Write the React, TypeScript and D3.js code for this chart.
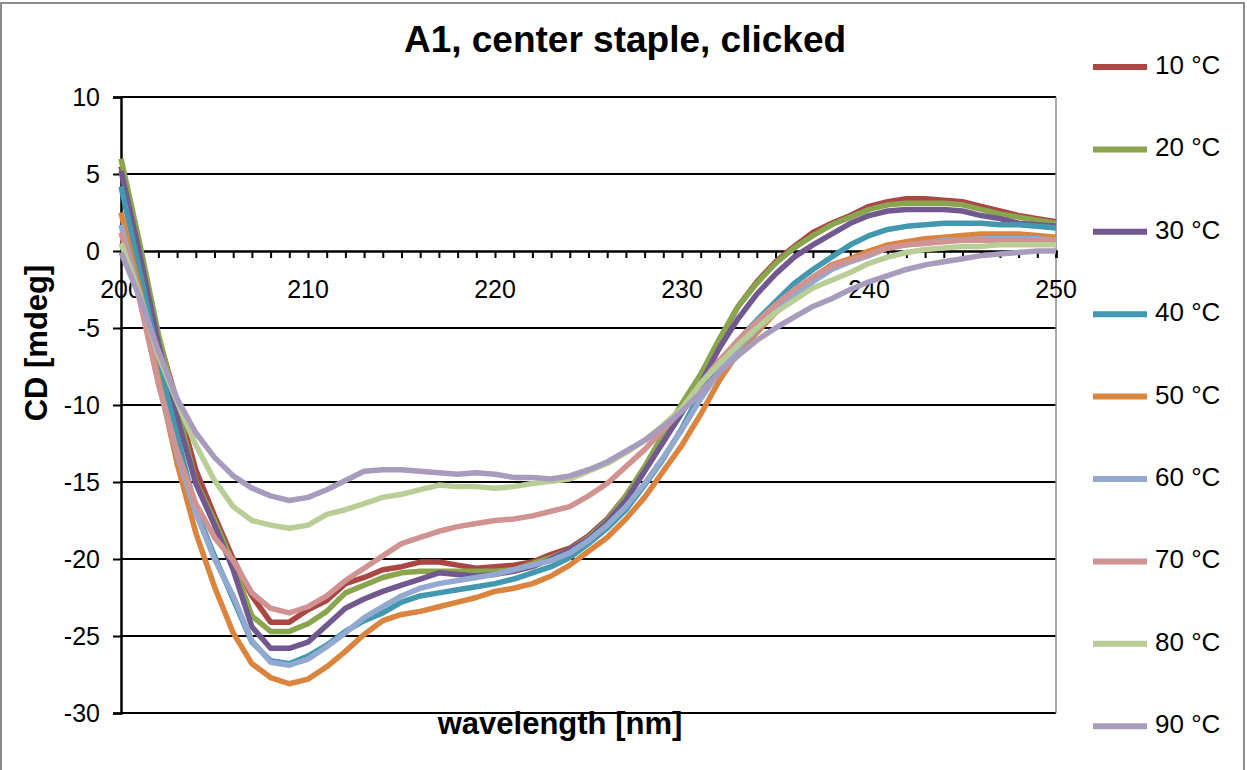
import React, { useEffect, useRef } from 'react';
import * as d3 from 'd3';

// wavelength [nm], one point per nm
const wavelengths = [
  200, 201, 202, 203, 204, 205, 206, 207, 208, 209,
  210, 211, 212, 213, 214, 215, 216, 217, 218, 219,
  220, 221, 222, 223, 224, 225, 226, 227, 228, 229,
  230, 231, 232, 233, 234, 235, 236, 237, 238, 239,
  240, 241, 242, 243, 244, 245, 246, 247, 248, 249, 250,
];

// CD [mdeg]
const cd10 = [
  5.5, 0.2, -5.6, -9.8, -14.2, -17.2, -20.0, -22.4, -24.1, -24.1,
  -23.3, -22.7, -21.6, -21.2, -20.7, -20.5, -20.2, -20.2, -20.4, -20.6,
  -20.5, -20.4, -20.2, -19.7, -19.3, -18.5, -17.4, -15.9, -14.1, -12.0,
  -10.0, -8.1, -5.8, -3.6, -2.0, -0.7, 0.3, 1.2, 1.8, 2.3,
  2.9, 3.2, 3.4, 3.4, 3.3, 3.2, 2.9, 2.6, 2.3, 2.1, 1.9,
];
const cd20 = [
  6.0, 0.5, -5.4, -10.2, -15.0, -17.5, -20.3, -23.7, -24.7, -24.7,
  -24.2, -23.4, -22.2, -21.7, -21.2, -20.9, -20.8, -20.8, -20.8, -20.8,
  -20.8, -20.7, -20.3, -19.9, -19.4, -18.6, -17.5, -15.9, -14.0, -11.9,
  -9.9, -8.0, -5.7, -3.6, -2.1, -0.8, 0.2, 1.0, 1.7, 2.2,
  2.7, 3.0, 3.1, 3.1, 3.1, 3.0, 2.7, 2.4, 2.2, 2.0, 1.8,
];
const cd30 = [
  5.2, -0.2, -6.0, -10.8, -15.1, -17.8, -20.7, -24.4, -25.8, -25.8,
  -25.4, -24.3, -23.2, -22.6, -22.1, -21.7, -21.3, -20.9, -21.0, -21.1,
  -21.0, -20.8, -20.5, -20.0, -19.4, -18.7, -17.6, -16.2, -14.3, -12.4,
  -10.5, -8.6, -6.3, -4.4, -2.8, -1.5, -0.4, 0.4, 1.1, 1.8,
  2.3, 2.6, 2.7, 2.7, 2.7, 2.6, 2.3, 2.1, 1.8, 1.7, 1.6,
];
const cd40 = [
  4.2, -1.3, -7.0, -12.0, -16.8, -19.8, -22.6, -25.4, -26.6, -26.8,
  -26.3, -25.6, -24.7, -24.0, -23.5, -22.8, -22.4, -22.2, -22.0, -21.8,
  -21.6, -21.3, -20.9, -20.5, -19.9, -19.0, -18.0, -16.8, -15.2, -13.5,
  -11.5, -9.2, -7.3, -5.8, -4.5, -3.3, -2.1, -1.2, -0.4, 0.4,
  1.0, 1.4, 1.6, 1.7, 1.8, 1.8, 1.8, 1.7, 1.7, 1.6, 1.5,
];
const cd50 = [
  2.5, -2.5, -8.3, -13.8, -18.3, -21.8, -24.8, -26.8, -27.7, -28.1,
  -27.8, -27.0, -26.0, -24.9, -24.0, -23.6, -23.4, -23.1, -22.8, -22.5,
  -22.1, -21.9, -21.6, -21.1, -20.4, -19.5, -18.6, -17.4, -16.0, -14.3,
  -12.6, -10.6, -8.4, -6.6, -5.3, -4.0, -2.8, -1.7, -0.9, -0.5,
  0.0, 0.4, 0.6, 0.8, 0.9, 1.0, 1.1, 1.1, 1.1, 1.0, 0.9,
];
const cd60 = [
  1.7, -3.0, -8.6, -13.2, -17.0, -20.0, -22.4, -25.3, -26.7, -26.9,
  -26.5, -25.7, -24.8, -23.8, -23.1, -22.4, -21.9, -21.6, -21.4, -21.2,
  -21.0, -20.7, -20.4, -20.1, -19.6, -18.8, -17.8, -16.6, -15.1, -13.4,
  -11.6, -9.6, -7.8, -6.3, -5.1, -3.9, -2.9, -2.0, -1.2, -0.7,
  -0.3, 0.2, 0.4, 0.5, 0.7, 0.7, 0.8, 0.8, 0.8, 0.8, 0.7,
];
const cd70 = [
  1.2, -3.2, -8.6, -13.0, -16.4, -18.6, -20.1, -22.2, -23.2, -23.5,
  -23.1, -22.4, -21.4, -20.6, -19.8, -19.0, -18.6, -18.2, -17.9, -17.7,
  -17.5, -17.4, -17.2, -16.9, -16.6, -15.9, -15.1, -14.0, -12.9, -11.6,
  -10.3, -8.6, -7.1, -5.8, -4.6, -3.5, -2.5, -1.7, -1.0, -0.6,
  -0.2, 0.2, 0.4, 0.5, 0.6, 0.7, 0.7, 0.7, 0.7, 0.7, 0.7,
];
const cd80 = [
  0.5, -2.8, -6.8, -9.8, -12.6, -14.9, -16.6, -17.5, -17.8, -18.0,
  -17.8, -17.1, -16.8, -16.4, -16.0, -15.8, -15.5, -15.2, -15.3, -15.3,
  -15.4, -15.3, -15.1, -14.95, -14.8, -14.3, -13.8, -13.1, -12.3, -11.3,
  -10.2, -8.6, -7.3, -6.1, -5.0, -4.0, -3.2, -2.4, -1.9, -1.4,
  -0.8, -0.4, -0.1, 0.1, 0.2, 0.3, 0.3, 0.4, 0.4, 0.4, 0.4,
];
const cd90 = [
  -0.1, -3.0, -6.5, -9.6, -11.8, -13.4, -14.6, -15.4, -15.9, -16.2,
  -16.0, -15.5, -14.9, -14.3, -14.2, -14.2, -14.3, -14.4, -14.5, -14.4,
  -14.5, -14.7, -14.7, -14.8, -14.6, -14.2, -13.7, -13.0, -12.3, -11.4,
  -10.4, -9.2, -7.9, -6.8, -5.8, -5.0, -4.3, -3.6, -3.1, -2.5,
  -2.0, -1.6, -1.2, -0.9, -0.7, -0.5, -0.3, -0.2, -0.1, 0.0, 0.0,
];

const seriesNames = ['10 °C', '20 °C', '30 °C', '40 °C', '50 °C', '60 °C', '70 °C', '80 °C', '90 °C'];
const seriesValues = [cd10, cd20, cd30, cd40, cd50, cd60, cd70, cd80, cd90];
const seriesColors = ['#AA4643', '#89A54E', '#71588F', '#4198AF', '#DB843D', '#93A9CF', '#D19392', '#B9CD96', '#A99BBD'];

const yTicks = [10, 5, 0, -5, -10, -15, -20, -25, -30];
const xLabels = [200, 210, 220, 230, 240, 250];

const FONT = '"Liberation Sans", Arial, sans-serif';

const CDChart = () => {
  const svgRef = useRef(null);

  useEffect(() => {
    const svg = d3.select(svgRef.current);
    svg.selectAll('*').remove();

    const x = d3.scaleLinear().domain([200, 250]).range([121, 1056]);
    const y = d3.scaleLinear().domain([-30, 10]).range([713, 97]);

    // outer chart border
    svg.append('rect')
      .attr('x', 1).attr('y', 3)
      .attr('width', 1243).attr('height', 800)
      .attr('fill', 'white')
      .attr('stroke', '#8c8c8c')
      .attr('stroke-width', 2);

    // title
    svg.append('text')
      .attr('x', 625).attr('y', 52)
      .attr('text-anchor', 'middle')
      .attr('font-family', FONT)
      .attr('font-weight', 'bold')
      .attr('font-size', 37)
      .text('A1, center staple, clicked');

    // left ticks + y axis line
    const yAxis = d3.axisLeft(y)
      .tickValues(yTicks)
      .tickSize(8)
      .tickFormat(() => '');
    const gy = svg.append('g').attr('transform', `translate(${x(200)},0)`).call(yAxis);
    gy.selectAll('line').attr('stroke', '#000').attr('stroke-width', 2);
    gy.select('.domain').attr('stroke', '#000').attr('stroke-width', 2.5);

    // horizontal gridlines
    svg.append('g')
      .selectAll('line')
      .data(yTicks.filter((t) => t !== 0))
      .join('line')
      .attr('x1', x(200)).attr('x2', x(250))
      .attr('y1', (d) => y(d)).attr('y2', (d) => y(d))
      .attr('stroke', '#000')
      .attr('stroke-width', 2);

    // right edge of plot area
    svg.append('line')
      .attr('x1', x(250)).attr('x2', x(250))
      .attr('y1', y(10)).attr('y2', y(-30))
      .attr('stroke', '#8c8c8c')
      .attr('stroke-width', 1.5);

    // y tick labels
    svg.append('g')
      .selectAll('text')
      .data(yTicks)
      .join('text')
      .attr('x', 100)
      .attr('y', (d) => y(d) + 9)
      .attr('text-anchor', 'end')
      .attr('font-family', FONT)
      .attr('font-size', 25)
      .text((d) => d);

    // x axis at zero, a tick each nm
    const xAxis = d3.axisBottom(x)
      .tickValues(wavelengths)
      .tickSize(7)
      .tickFormat(() => '');
    const gx = svg.append('g').attr('transform', `translate(0,${y(0)})`).call(xAxis);
    gx.selectAll('line').attr('stroke', '#000').attr('stroke-width', 2);
    gx.select('.domain').attr('stroke', '#000').attr('stroke-width', 2.5);

    svg.append('g')
      .selectAll('text')
      .data(xLabels)
      .join('text')
      .attr('x', (d) => x(d))
      .attr('y', y(0) + 47)
      .attr('text-anchor', 'middle')
      .attr('font-family', FONT)
      .attr('font-size', 25)
      .text((d) => d);

    // axis titles
    svg.append('text')
      .attr('x', 560).attr('y', 734)
      .attr('text-anchor', 'middle')
      .attr('font-family', FONT)
      .attr('font-weight', 'bold')
      .attr('font-size', 31)
      .text('wavelength [nm]');

    svg.append('text')
      .attr('transform', 'translate(47,343) rotate(-90)')
      .attr('text-anchor', 'middle')
      .attr('font-family', FONT)
      .attr('font-weight', 'bold')
      .attr('font-size', 31)
      .text('CD [mdeg]');

    // the curves
    const line = d3.line<number>()
      .x((_, i) => x(wavelengths[i]))
      .y((d) => y(d));

    seriesValues.forEach((vals, k) => {
      svg.append('path')
        .datum(vals)
        .attr('d', line)
        .attr('fill', 'none')
        .attr('stroke', seriesColors[k])
        .attr('stroke-width', 5.5)
        .attr('stroke-linejoin', 'round');
    });

    // legend
    const legend = svg.append('g');
    seriesNames.forEach((name, k) => {
      const ly = 67 + k * 82.4;
      legend.append('line')
        .attr('x1', 1093).attr('x2', 1147)
        .attr('y1', ly).attr('y2', ly)
        .attr('stroke', seriesColors[k])
        .attr('stroke-width', 6);
      legend.append('text')
        .attr('x', 1155).attr('y', ly + 7)
        .attr('font-family', FONT)
        .attr('font-size', 26)
        .text(name);
    });
  }, []);

  return (
    <svg
      ref={svgRef}
      width={1247}
      height={770}
      style={{ position: 'absolute', left: 0, top: 0 }}
    ></svg>
  );
};

export default function App() {
  return <CDChart />;
}
